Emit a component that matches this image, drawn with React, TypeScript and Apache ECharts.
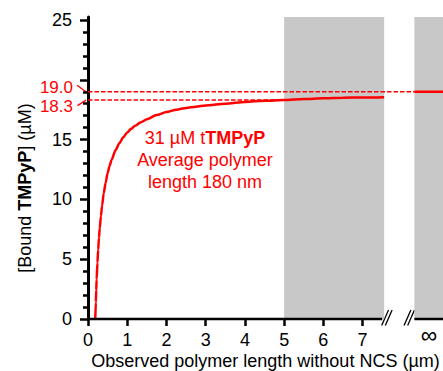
import React, { useEffect, useRef } from "react";
import * as echarts from "echarts";

// ---- data ----
const X_TICKS = [0, 1, 2, 3, 4, 5, 6, 7];
const INF_POS = 8.69; // position of the "∞" label after the axis break
const Y_TICKS = [0, 5, 10, 15, 20, 25];
const Y_LABELS = [0, 5, 10, 15, 25];
const Y_MINOR = [1, 2, 3, 4, 6, 7, 8, 9, 11, 12, 13, 14, 16, 17, 18, 19, 21, 22, 23, 24];

const curveX = [0.185, 0.2, 0.21, 0.22, 0.24, 0.26, 0.28, 0.3, 0.33, 0.36, 0.4, 0.45, 0.5, 0.55, 0.6, 0.7, 0.8, 0.9, 1.0, 1.1, 1.2, 1.35, 1.5, 1.75, 2.0, 2.25, 2.5, 2.75, 3.0, 3.5, 4.0, 4.5, 5.0, 5.5, 6.0, 6.5, 7.0, 7.55];
const curveY = [0, 1.4, 2.4, 3.3, 4.7, 5.8, 6.8, 7.6, 8.6, 9.5, 10.5, 11.4, 12.2, 12.8, 13.3, 14.1, 14.7, 15.2, 15.6, 15.9, 16.15, 16.45, 16.7, 17.05, 17.3, 17.5, 17.65, 17.75, 17.85, 18.0, 18.15, 18.25, 18.3, 18.4, 18.45, 18.5, 18.52, 18.55];

const SATURATION = 19.0; // value at infinite length
const AT_5UM = 18.3; // value at 5 µm
const SAT_DASH_END = 8.32;
const AT5_DASH_END = 5;
const INF_SEGMENT = [8.32, 9.05];
const SHADED = [
  [5, 7.55],
  [8.32, 9.05],
];
const AXIS_SEGMENTS = [
  [0, 7.5],
  [8.32, 9.05],
];
const BREAKS = [7.62, 8.19];

const X_MAX = 9.05;
const Y_MAX = 25.25;

const RED = "#ff0000";
const GRAY = "#c8c8c8";
const FONT = "'Liberation Sans', Arial, sans-serif";

export default function App() {
  const ref = useRef<HTMLDivElement>(null);

  useEffect(() => {
    document.body.style.margin = "0";
    const chart = echarts.init(ref.current!, null, { renderer: "svg" });

    const curve = curveX.map((x, i) => [x, curveY[i]]);

    const option: any = {
      animation: false,
      grid: { left: 88, right: 0, top: 17, bottom: 52, containLabel: false, outerBoundsMode: "none" },
      xAxis: {
        type: "value",
        min: 0,
        max: X_MAX,
        axisLine: { show: false },
        splitLine: { show: false },
        axisTick: {
          show: true,
          customValues: X_TICKS,
          length: 7,
          lineStyle: { color: "#000", width: 2.5 },
        },
        axisLabel: {
          customValues: X_TICKS,
          margin: 12,
          color: "#000",
          fontSize: 18,
          fontFamily: FONT,
        },
        name: "Observed polymer length without NCS (µm)",
        nameLocation: "middle",
        nameGap: 33,
        nameMoveOverlap: false,
        nameTextStyle: { color: "#000", fontSize: 18, fontFamily: FONT },
      },
      yAxis: [
        {
          type: "value",
          min: 0,
          max: Y_MAX,
          axisLine: { show: true, lineStyle: { color: "#000", width: 3 } },
          splitLine: { show: false },
          axisTick: {
            show: true,
            customValues: Y_TICKS,
            length: 8,
            lineStyle: { color: "#000", width: 2.5 },
          },
          axisLabel: {
            customValues: Y_LABELS,
            margin: 16,
            color: "#000",
            fontSize: 18,
            fontFamily: FONT,
          },
        },
        {
          type: "value",
          position: "left",
          min: 0,
          max: Y_MAX,
          axisLine: { show: false },
          splitLine: { show: false },
          axisTick: {
            show: true,
            customValues: Y_MINOR,
            length: 5,
            lineStyle: { color: "#000", width: 2.5 },
          },
          axisLabel: { show: false },
        },
      ],
      series: [
        {
          name: "shade",
          type: "line",
          data: [],
          z: 1,
          silent: true,
          markArea: {
            silent: true,
            itemStyle: { color: GRAY },
            data: SHADED.map(([a, b]) => [{ xAxis: a }, { xAxis: b }]),
          },
        },
        {
          name: "sat-dash",
          type: "line",
          z: 3,
          symbol: "none",
          silent: true,
          data: [
            [0, SATURATION],
            [SAT_DASH_END, SATURATION],
          ],
          lineStyle: { color: RED, width: 1.5, type: [4.5, 2] },
        },
        {
          name: "at5-dash",
          type: "line",
          z: 3,
          symbol: "none",
          silent: true,
          data: [
            [0, AT_5UM],
            [AT5_DASH_END, AT_5UM],
          ],
          lineStyle: { color: RED, width: 1.5, type: [4.5, 2] },
        },
        {
          name: "inf",
          type: "line",
          z: 4,
          symbol: "none",
          silent: true,
          data: INF_SEGMENT.map((x) => [x, SATURATION]),
          lineStyle: { color: RED, width: 2.5 },
        },
        {
          name: "curve",
          type: "line",
          z: 5,
          symbol: "none",
          silent: true,
          smooth: 0.25,
          smoothMonotone: "x",
          data: curve,
          lineStyle: { color: RED, width: 2.5 },
        },
        ...AXIS_SEGMENTS.map(([a, b], i) => ({
          name: "xaxis-" + i,
          type: "line",
          z: 6,
          symbol: "none",
          silent: true,
          clip: false,
          data: [
            [a, 0],
            [b, 0],
          ],
          lineStyle: { color: "#000", width: 2.5 },
        })),
      ],
    };

    chart.setOption(option);

    const p19 = chart.convertToPixel({ gridIndex: 0 }, [0, SATURATION]) as number[];
    const p183 = chart.convertToPixel({ gridIndex: 0 }, [0, AT_5UM]) as number[];
    const pInf = chart.convertToPixel({ gridIndex: 0 }, [INF_POS, 0]) as number[];

    const graphics: any[] = [];
    graphics.push({
      type: "text",
      x: pInf[0],
      y: pInf[1] + 16,
      style: {
        text: "∞",
        fill: "#000",
        fontSize: 23,
        fontFamily: FONT,
        align: "center",
        verticalAlign: "middle",
      },
    });
    graphics.push({
      type: "text",
      x: p19[0] - 15,
      y: p19[1] - 4,
      style: {
        text: SATURATION.toFixed(1),
        fill: RED,
        fontSize: 17,
        fontFamily: FONT,
        align: "right",
        verticalAlign: "middle",
      },
    });
    graphics.push({
      type: "line",
      shape: { x1: p19[0] - 11, y1: p19[1] - 6.6, x2: p19[0] - 2, y2: p19[1] },
      style: { stroke: RED, lineWidth: 1.3 },
    });
    graphics.push({
      type: "text",
      x: p183[0] - 15,
      y: p183[1] + 6,
      style: {
        text: AT_5UM.toFixed(1),
        fill: RED,
        fontSize: 17,
        fontFamily: FONT,
        align: "right",
        verticalAlign: "middle",
      },
    });
    graphics.push({
      type: "line",
      shape: { x1: p183[0] - 10.5, y1: p183[1] + 5.5, x2: p183[0] - 2, y2: p183[1] },
      style: { stroke: RED, lineWidth: 1.3 },
    });

    BREAKS.forEach((b) => {
      const pb = chart.convertToPixel({ gridIndex: 0 }, [b, 0]) as number[];
      [-1.8, 1.8].forEach((d) => {
        graphics.push({
          type: "line",
          shape: {
            x1: pb[0] + d - 3.4,
            y1: pb[1] + 6.5,
            x2: pb[0] + d + 3.4,
            y2: pb[1] - 9,
          },
          style: { stroke: "#000", lineWidth: 1.3 },
        });
      });
    });

    const annotRich = {
      n: { fontSize: 18, fontFamily: FONT, fill: RED, color: RED },
      b: { fontSize: 18, fontFamily: FONT, fontWeight: "bold", fill: RED, color: RED },
    };
    const annotLines = ["{n|31 µM t}{b|TMPyP}", "{n|Average polymer}", "{n|length 180 nm}"];
    annotLines.forEach((t, i) => {
      graphics.push({
        type: "text",
        x: 205,
        y: 138 + i * 22,
        style: {
          text: t,
          rich: annotRich,
          fill: RED,
          align: "center",
          verticalAlign: "middle",
        },
      });
    });

    graphics.push({
      type: "text",
      x: 25,
      y: 188,
      rotation: Math.PI / 2,
      style: {
        text: "{n|[Bound }{b|TMPyP}{n|] (µM)}",
        rich: {
          n: { fontSize: 18, fontFamily: FONT, fill: "#000" },
          b: { fontSize: 18, fontFamily: FONT, fontWeight: "bold", fill: "#000" },
        },
        fill: "#000",
        align: "center",
        verticalAlign: "middle",
      },
    });

    chart.setOption({ graphic: graphics });

    return () => chart.dispose();
  }, []);

  return <div ref={ref} style={{ width: 443, height: 371 }} />;
}
